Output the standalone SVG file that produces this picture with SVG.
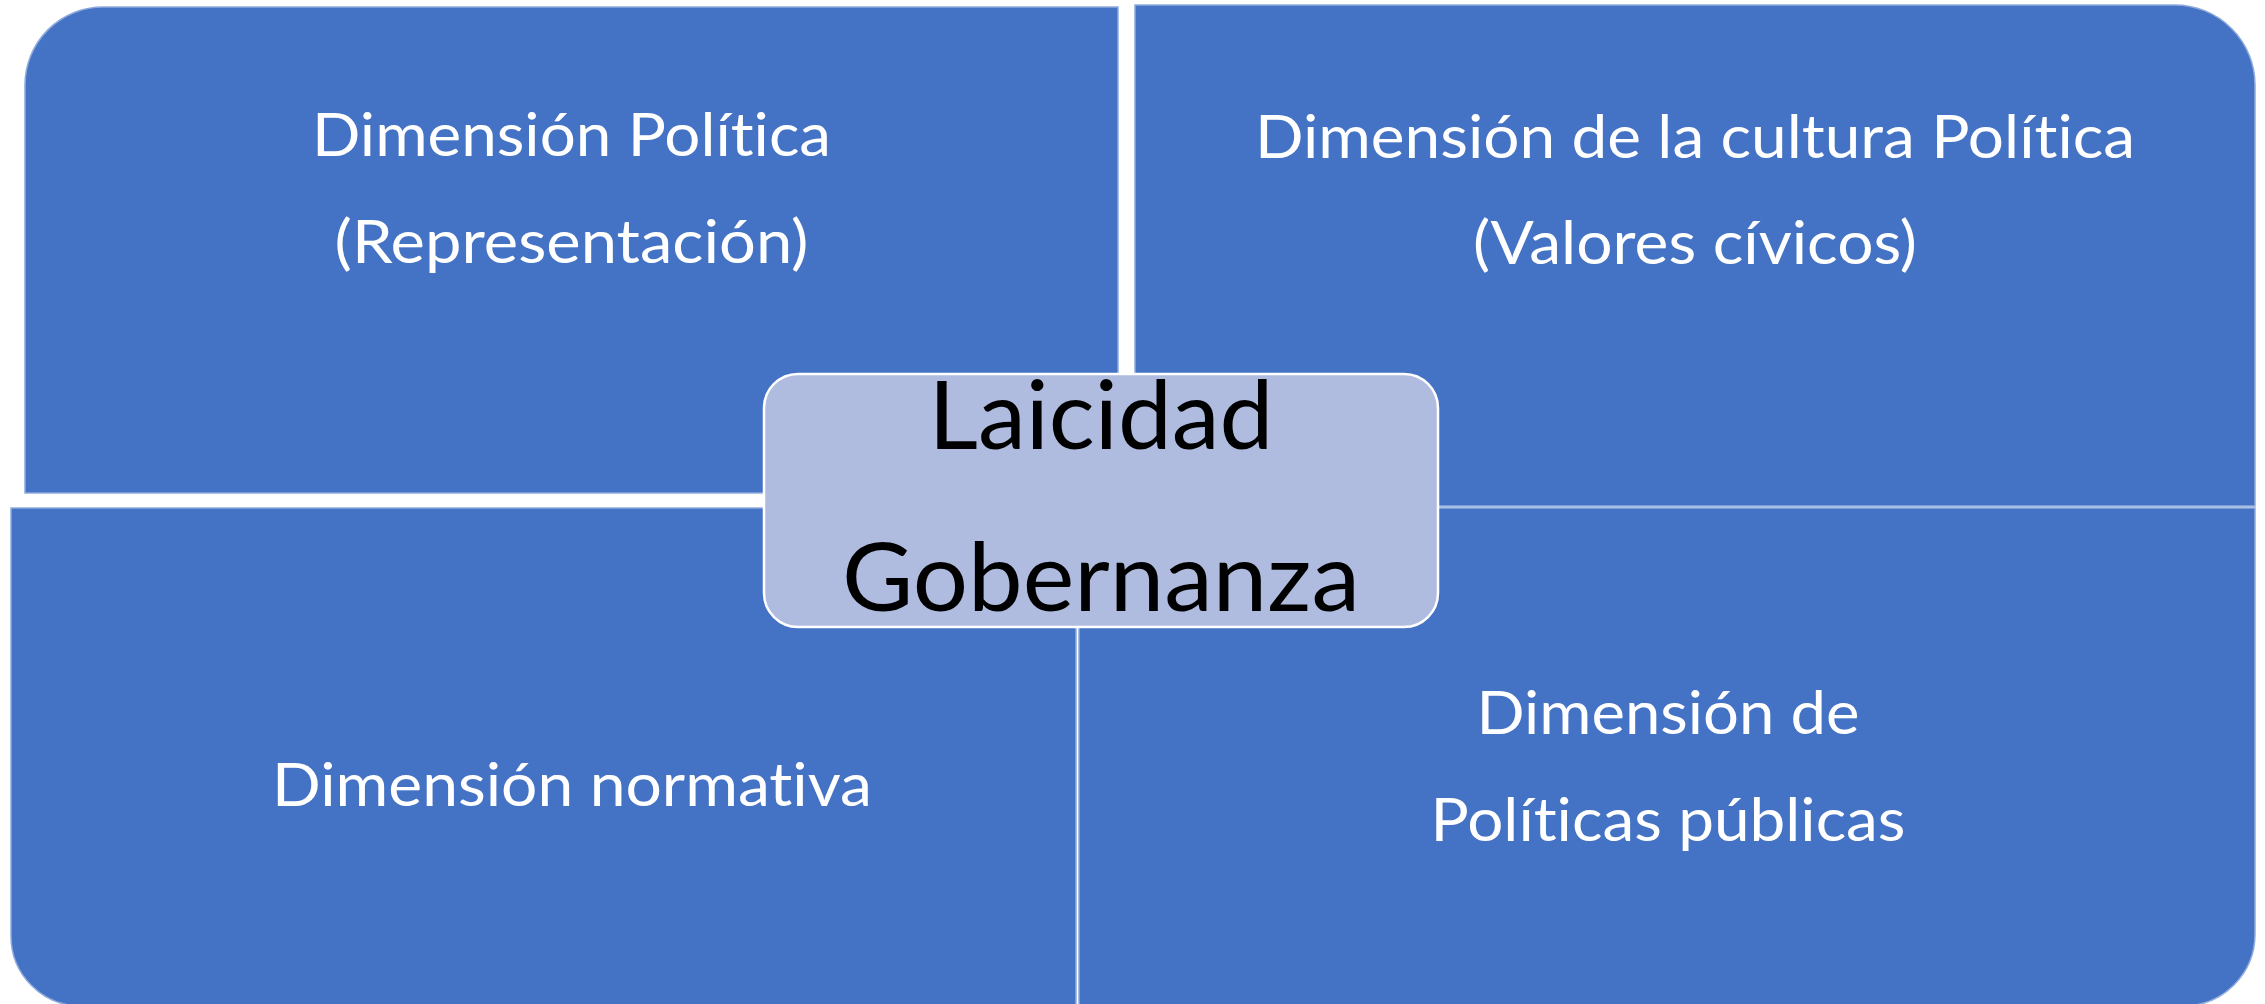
<svg xmlns="http://www.w3.org/2000/svg" width="2265" height="1004" viewBox="0 0 2265 1004">
<style>
.q{fill:#4472C4;stroke:#8FAADC;stroke-width:1.5}
.c{fill:#AFBCDF;stroke:#FFFFFF;stroke-width:2.5}
.t{font-family:Lato,"Open Sans",sans-serif;fill:#FFFFFF;font-size:60px;text-anchor:middle;font-variant-ligatures:none}
.tc{font-family:Lato,"Open Sans",sans-serif;fill:#000000;font-size:95px;text-anchor:middle;font-variant-ligatures:none}
</style>
<rect width="2265" height="1004" fill="#FFFFFF"/>
<g id="politica">
<path class="q" d="M25 85 A78 78 0 0 1 103 7 L1118 7 L1118 493 L25 493 Z"/>
<text class="t" x="571.5" y="156" textLength="519" lengthAdjust="spacingAndGlyphs">Dimensión Política</text>
<text class="t" x="571.5" y="263" textLength="474" lengthAdjust="spacingAndGlyphs">(Representación)</text>
</g>
<g id="cultura">
<path class="q" d="M1135 5 L2175 5 A80 80 0 0 1 2255 85 L2255 506 L1135 506 Z"/>
<text class="t" x="1695" y="158" textLength="880" lengthAdjust="spacingAndGlyphs">Dimensión de la cultura Política</text>
<text class="t" x="1695" y="264" textLength="444" lengthAdjust="spacingAndGlyphs">(Valores cívicos)</text>
</g>
<g id="normativa">
<path class="q" d="M11 508 L1076 508 L1076 1006 L81 1006 A70 70 0 0 1 11 936 Z"/>
<text class="t" x="572" y="806" textLength="600" lengthAdjust="spacingAndGlyphs">Dimensión normativa</text>
</g>
<g id="publicas">
<path class="q" d="M1079 508 L2255 508 L2255 934 A72 72 0 0 1 2183 1006 L1079 1006 Z"/>
<text class="t" x="1668" y="734" textLength="383" lengthAdjust="spacingAndGlyphs">Dimensión de</text>
<text class="t" x="1668" y="841" textLength="475" lengthAdjust="spacingAndGlyphs">Políticas públicas</text>
</g>
<g id="centro">
<rect class="c" x="764" y="374" width="674" height="253" rx="34" ry="34"/>
<text class="tc" x="1101" y="449" textLength="345" lengthAdjust="spacingAndGlyphs">Laicidad</text>
<text class="tc" x="1101" y="611" textLength="518" lengthAdjust="spacingAndGlyphs">Gobernanza</text>
</g>
</svg>
